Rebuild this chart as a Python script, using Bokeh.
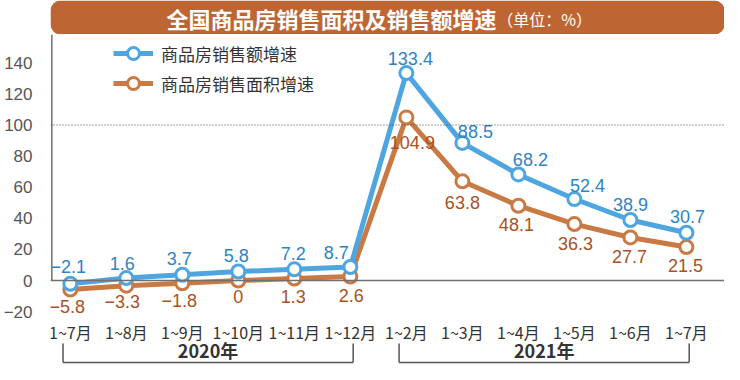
from bokeh.plotting import figure
from bokeh.models import Range1d, Span, FixedTicker, Legend, LegendItem, BoxAnnotation
from bokeh.layouts import column
from bokeh.core.properties import value
from bokeh.embed import file_html
from bokeh.resources import INLINE

# ---- data ----
months = ["1~7月", "1~8月", "1~9月", "1~10月", "1~11月", "1~12月",
          "1~2月", "1~3月", "1~4月", "1~5月", "1~6月", "1~7月"]
sales_amount = [-2.1, 1.6, 3.7, 5.8, 7.2, 8.7, 133.4, 88.5, 68.2, 52.4, 38.9, 30.7]
sales_area = [-5.8, -3.3, -1.8, 0, 1.3, 2.6, 104.9, 63.8, 48.1, 36.3, 27.7, 21.5]
years = ["2020年", "2021年"]
year_first = [0, 6]
year_last = [5, 11]
y_ticks = [-20, 0, 20, 40, 60, 80, 100, 120, 140]
name_amount = "商品房销售额增速"
name_area = "商品房销售面积增速"
title_main = "全国商品房销售面积及销售额增速"
title_unit = "（单位：%）"

# label offsets (screen px)
amt_dx = [-2, -4, -3, -2, -1, -14, 4, 13, 12, 13, 0, 1]
amt_dy = [-17, -15, -16, -16, -16, -14, -15, -11, -15, -14, -16, -16]
area_dx = [-3, -4, -3, 0, -1, 1, 6, 0, -2, 1, -1, -1]
area_dy = [17, 16, 17, 16, 18, 19, 25, 21, 19, 19, 19, 18]

BLUE = "#4EA5E0"
BLUE_T = "#2D83C5"
ORANGE = "#C97A44"
ORANGE_T = "#A9511F"
CJK = value("Noto Sans CJK SC")
NUM = value("Liberation Sans")


def fmt(v):
    return f"{v:g}".replace("-", "\u2212")


# ---- title banner ----
W = 724
tf = figure(width=W, height=34, x_range=Range1d(0, W), y_range=Range1d(0, 34),
            output_backend="svg", toolbar_location=None, min_border=0)
tf.axis.visible = False
tf.grid.visible = False
tf.outline_line_color = None
tf.add_layout(BoxAnnotation(left=0, right=W, bottom=0, top=34, fill_color="#BD6634",
                            fill_alpha=1, line_color=None, border_radius=10, level="underlay"))
tf.text(x=[479], y=[17], text=[title_main], text_font=CJK, text_font_style="bold",
        text_font_size="22px", text_color="white", text_align="right", text_baseline="middle")
tf.text(x=[480], y=[16], text=[title_unit], text_font=CJK,
        text_font_size="16px", text_color="white", text_align="left", text_baseline="middle")

# ---- main chart ----
x = list(range(len(months)))
p = figure(width=W, height=330, x_range=Range1d(-0.354, 11.68), y_range=Range1d(-54, 158.2),
           output_backend="svg", toolbar_location=None,
           min_border_left=44, min_border_right=0, min_border_top=0, min_border_bottom=0)
p.xaxis.visible = False
p.grid.visible = False
p.outline_line_color = None
p.background_fill_color = "white"

yax = p.yaxis[0]
yax.ticker = FixedTicker(ticks=y_ticks)
yax.major_label_overrides = {t: fmt(t) for t in y_ticks}
yax.axis_line_color = None
yax.major_tick_line_color = None
yax.minor_tick_line_color = None
yax.major_label_standoff = 12
yax.major_label_text_font = "Liberation Sans"
yax.major_label_text_font_size = "17px"
yax.major_label_text_color = "#555555"

p.add_layout(Span(location=0, dimension="width", line_color="#707070", line_width=1.5))
p.add_layout(Span(location=100, dimension="width", line_color="#444444", line_width=1,
                  line_dash="1 2"))
p.segment(x0=[-0.33], y0=[0], x1=[-0.33], y1=[158.2], line_color="#707070", line_width=1.5)

r_area_l = p.line(x, sales_area, line_color=ORANGE, line_width=5)
r_area_s = p.scatter(x, sales_area, size=13, marker="circle", fill_color="white",
                     line_color=ORANGE, line_width=3)
r_amt_l = p.line(x, sales_amount, line_color=BLUE, line_width=5)
r_amt_s = p.scatter(x, sales_amount, size=13, marker="circle", fill_color="white",
                    line_color=BLUE, line_width=3)

p.text(x=x, y=sales_amount, text=[fmt(v) for v in sales_amount], x_offset=amt_dx, y_offset=amt_dy,
       text_font=NUM, text_font_size="18px", text_color=BLUE_T, text_align="center",
       text_baseline="middle")
p.text(x=x, y=sales_area, text=[fmt(v) for v in sales_area], x_offset=area_dx, y_offset=area_dy,
       text_font=NUM, text_font_size="18px", text_color=ORANGE_T, text_align="center",
       text_baseline="middle")

# category labels
p.text(x=x, y=[-32.8] * len(x), text=months, text_font=CJK, text_font_size="16px",
       text_color="#333333", text_align="center", text_baseline="middle")

# year brackets
left = [f - 0.13 for f in year_first]
right = [l + 0.05 for l in year_last]
top_b, bot_b = -40.5, -52.7
p.segment(x0=left, y0=[top_b] * 2, x1=left, y1=[bot_b] * 2, line_color="#555555", line_width=1.5)
p.segment(x0=right, y0=[top_b] * 2, x1=right, y1=[bot_b] * 2, line_color="#555555", line_width=1.5)
p.segment(x0=left, y0=[bot_b] * 2, x1=right, y1=[bot_b] * 2, line_color="#555555", line_width=1.5)
p.text(x=[(a + b) / 2 for a, b in zip(left, right)], y=[-44.6] * 2, text=years, text_font=CJK,
       text_font_style="bold", text_font_size="18px", text_color="#333333",
       text_align="center", text_baseline="middle")

legend = Legend(items=[LegendItem(label=name_amount, renderers=[r_amt_l, r_amt_s]),
                       LegendItem(label=name_area, renderers=[r_area_l, r_area_s])],
                location=(63, 266), orientation="vertical", padding=0, margin=0, spacing=0,
                glyph_width=40, glyph_height=30, label_standoff=8,
                label_text_font="Noto Sans CJK SC", label_text_font_size="17px",
                label_text_color="#333333", border_line_color=None,
                background_fill_alpha=0)
p.add_layout(legend)

layout = column(tf, p, spacing=0)
open("out.html", "w").write(file_html(layout, INLINE))
